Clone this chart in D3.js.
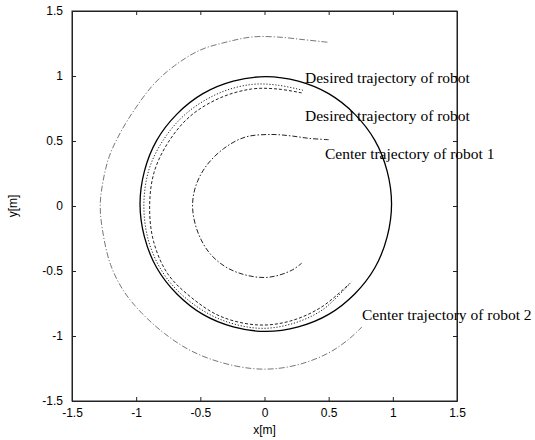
<!DOCTYPE html>
<html>
<head>
<meta charset="utf-8">
<script src="https://cdn.jsdelivr.net/npm/d3@7"></script>
<style>
  body { margin: 0; background: #fff; }
  #chart { width: 535px; height: 440px; }
  .tick text { font-family: "Liberation Sans", Arial, sans-serif; font-size: 12px; fill: #000; }
  .lbl { font-family: "Liberation Serif", "Times New Roman", serif; font-size: 15.5px; fill: #000; }
  .axis-title { font-family: "Liberation Sans", Arial, sans-serif; font-size: 12px; fill: #000; }
</style>
</head>
<body>
<div id="chart"></div>
<script>
"use strict";

// axis ticks
const xTicks = [-1.5, -1, -0.5, 0, 0.5, 1, 1.5];
const yTicks = [-1.5, -1, -0.5, 0, 0.5, 1, 1.5];

// desired trajectory (closed circle)
const desired = [
  [0.99, 0.015], [0.86, 0.505], [0.5, 0.864], [0.01, 0.995],
  [-0.48, 0.864], [-0.84, 0.505], [-0.97, 0.015], [-0.84, -0.475],
  [-0.48, -0.834], [0.01, -0.965], [0.5, -0.834], [0.86, -0.475],
];

// desired trajectory of robot (two nearly overlapping curves)
const robotA = [
  [0.3, 0.89], [0.1, 0.93], [-0.1, 0.935], [-0.35, 0.87], [-0.6, 0.72],
  [-0.78, 0.52], [-0.9, 0.28], [-0.94, 0.0], [-0.9, -0.28], [-0.78, -0.53],
  [-0.6, -0.72], [-0.35, -0.87], [-0.05, -0.94], [0.2, -0.91], [0.45, -0.8],
  [0.68, -0.58],
];
const robotB = [
  [0.29, 0.87], [0.1, 0.9], [-0.1, 0.9], [-0.35, 0.83], [-0.58, 0.69],
  [-0.75, 0.49], [-0.86, 0.26], [-0.895, 0.0], [-0.865, -0.27], [-0.755, -0.52],
  [-0.575, -0.7], [-0.34, -0.85], [-0.05, -0.915], [0.2, -0.885], [0.44, -0.78],
  [0.66, -0.6],
];

// center trajectory of robot 1 (inner)
const center1 = [
  [0.5, 0.51], [0.35, 0.52], [0.2, 0.54], [0.05, 0.55], [-0.15, 0.53],
  [-0.32, 0.44], [-0.46, 0.3], [-0.54, 0.14], [-0.56, -0.02], [-0.52, -0.2],
  [-0.43, -0.36], [-0.3, -0.47], [-0.15, -0.53], [0.0, -0.55], [0.12, -0.53],
  [0.22, -0.49], [0.29, -0.44],
];

// center trajectory of robot 2 (outer)
const center2 = [
  [0.49, 1.26], [0.3, 1.28], [0.1, 1.3], [-0.1, 1.3], [-0.3, 1.26],
  [-0.5, 1.2], [-0.7, 1.08], [-0.86, 0.94], [-1.0, 0.76], [-1.12, 0.57],
  [-1.21, 0.38], [-1.26, 0.18], [-1.28, 0.0], [-1.26, -0.2], [-1.2, -0.45],
  [-1.1, -0.65], [-0.96, -0.82], [-0.78, -0.98], [-0.58, -1.11], [-0.35, -1.2],
  [-0.1, -1.25], [0.1, -1.25], [0.3, -1.21], [0.5, -1.13], [0.65, -1.03],
  [0.76, -0.93],
];

// annotation texts and where they sit (data coords)
const labelTexts = [
  "Desired trajectory of robot",
  "Desired trajectory of robot",
  "Center trajectory of robot 1",
  "Center trajectory of robot 2",
];
const labelAt = [[0.316, 0.946], [0.316, 0.654], [0.471, 0.361], [0.76, -0.877]];

function draw() {
  const w = 535, h = 440;
  const left = 72, right = 457, top = 11, bottom = 401;

  const svg = d3.select("#chart").append("svg")
    .attr("width", w)
    .attr("height", h);

  const xScale = d3.scaleLinear().domain([-1.5, 1.5]).range([left, right]);
  const yScale = d3.scaleLinear().domain([-1.5, 1.5]).range([bottom, top]);

  const fmt = (v) => String(v);

  // bottom axis with labels, ticks pointing in
  svg.append("g")
    .attr("transform", `translate(0, ${bottom})`)
    .call(d3.axisBottom(xScale).tickValues(xTicks).tickFormat(fmt)
      .tickSizeInner(-4).tickSizeOuter(0).tickPadding(7));

  svg.append("g")
    .attr("transform", `translate(${left}, 0)`)
    .call(d3.axisLeft(yScale).tickValues(yTicks).tickFormat(fmt)
      .tickSizeInner(-4).tickSizeOuter(0).tickPadding(9));

  // top / right ticks, no labels
  svg.append("g")
    .attr("transform", `translate(0, ${top})`)
    .call(d3.axisTop(xScale).tickValues(xTicks).tickFormat("")
      .tickSizeInner(-4).tickSizeOuter(0));

  svg.append("g")
    .attr("transform", `translate(${right}, 0)`)
    .call(d3.axisRight(yScale).tickValues(yTicks).tickFormat("")
      .tickSizeInner(-4).tickSizeOuter(0));

  svg.selectAll(".domain").attr("stroke", "#222");
  svg.selectAll(".tick line").attr("stroke", "#222");

  // the box
  svg.append("rect")
    .attr("x", left).attr("y", top)
    .attr("width", right - left).attr("height", bottom - top)
    .attr("fill", "none").attr("stroke", "#222").attr("stroke-width", 1);

  const line = d3.line()
    .x((d) => xScale(d[0]))
    .y((d) => yScale(d[1]))
    .curve(d3.curveCatmullRom);

  const closed = d3.line()
    .x((d) => xScale(d[0]))
    .y((d) => yScale(d[1]))
    .curve(d3.curveCatmullRomClosed);

  const curves = svg.append("g").attr("fill", "none");

  curves.append("path").attr("d", closed(desired))
    .attr("stroke", "#000").attr("stroke-width", 1.3);

  curves.append("path").attr("d", line(robotA))
    .attr("stroke", "#222").attr("stroke-width", 1)
    .attr("stroke-dasharray", "1.2,1.8");

  curves.append("path").attr("d", line(robotB))
    .attr("stroke", "#222").attr("stroke-width", 1)
    .attr("stroke-dasharray", "3,2");

  curves.append("path").attr("d", line(center1))
    .attr("stroke", "#222").attr("stroke-width", 1)
    .attr("stroke-dasharray", "5,2,1.5,2");

  curves.append("path").attr("d", line(center2))
    .attr("stroke", "#666").attr("stroke-width", 0.9)
    .attr("stroke-dasharray", "6,2,1.2,2");

  // annotations
  svg.selectAll("text.lbl")
    .data(labelTexts)
    .enter()
    .append("text")
    .attr("class", "lbl")
    .attr("x", (d, i) => xScale(labelAt[i][0]))
    .attr("y", (d, i) => yScale(labelAt[i][1]))
    .text((d) => d);

  // axis titles
  svg.append("text")
    .attr("class", "axis-title")
    .attr("x", (left + right) / 2)
    .attr("y", 434)
    .attr("text-anchor", "middle")
    .text("x[m]");

  svg.append("text")
    .attr("class", "axis-title")
    .attr("transform", `translate(17, ${(top + bottom) / 2}) rotate(-90)`)
    .attr("text-anchor", "middle")
    .text("y[m]");
}

draw();
</script>
</body>
</html>
